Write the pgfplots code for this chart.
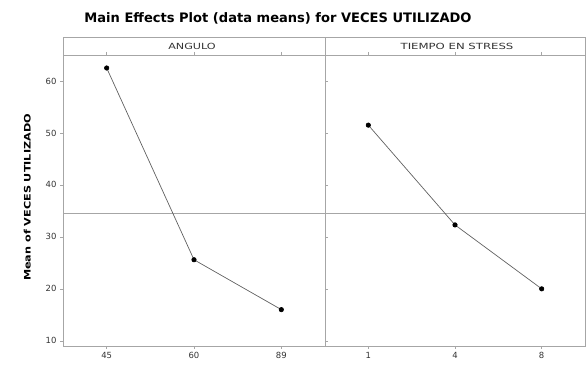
\documentclass[border=0pt]{standalone}
\usepackage{pgfplots}
\pgfplotsset{compat=1.18}
\usepackage{fontspec}
\setmainfont{DejaVu Sans}
\begin{document}
\begin{tikzpicture}
\useasboundingbox (0bp,0bp) rectangle (586bp,370bp);
\pgfplotsset{
  meplot/.style={
    scale only axis, height=291bp,
    ymin=9, ymax=65,
    xmin=-0.5, xmax=2.5,
    xtick={0,1,2},
    axis line style={gray!70, line width=0.8pt},
    tick style={gray!70, line width=0.6pt},
    tick align=outside,
    major tick length=3bp,
    tick label style={font=\fontsize{8.5}{10}\selectfont, text=black!80},
    /pgf/number format/assume math mode=true,
    clip=false,
  },
}
\begin{axis}[meplot, name=left, at={(63bp,24bp)}, anchor=south west, width=262bp,
  ytick={10,20,30,40,50,60},
  xticklabels={45,60,89},
  ylabel={\scalebox{1.25}[1]{\bfseries Mean of VECES UTILIZADO}},
  ylabel style={font=\fontsize{9}{11}\selectfont, xshift=3bp, yshift=8bp},
  ]
  \addplot[gray!70, line width=0.8pt, forget plot] coordinates {(-0.5,34.6) (2.5,34.6)};
  \addplot[gray!75!black, line width=0.7pt, mark=*, mark size=2.2pt, mark options={fill=black, draw=black}]
    coordinates {(0,62.5) (1,25.6) (2,16.0)};
\end{axis}
\begin{axis}[meplot, name=right, at={(325bp,24bp)}, anchor=south west, width=260bp,
  ytick=\empty,
  xticklabels={1,4,8},
  ]
  \addplot[gray!70, line width=0.8pt, forget plot] coordinates {(-0.5,34.6) (2.5,34.6)};
  \addplot[gray!75!black, line width=0.7pt, mark=*, mark size=2.2pt, mark options={fill=black, draw=black}]
    coordinates {(0,51.5) (1,32.3) (2,20.0)};
\end{axis}
% panel header strips
\draw[gray!70, line width=0.9pt] (63bp,315bp) rectangle (325bp,333bp);
\draw[gray!70, line width=0.9pt] (325bp,315bp) rectangle (585bp,333bp);
\node[font=\fontsize{8.5}{10}\selectfont, text=black!80] at (192bp,324bp) {\scalebox{1.32}[1]{ANGULO}};
\node[font=\fontsize{8.5}{10}\selectfont, text=black!80] at (457bp,324bp) {\scalebox{1.38}[1]{TIEMPO EN STRESS}};
\node[font=\bfseries\fontsize{13.1}{15}\selectfont] at (278bp,352bp) {Main Effects Plot (data means) for VECES UTILIZADO};
\end{tikzpicture}
\end{document}
